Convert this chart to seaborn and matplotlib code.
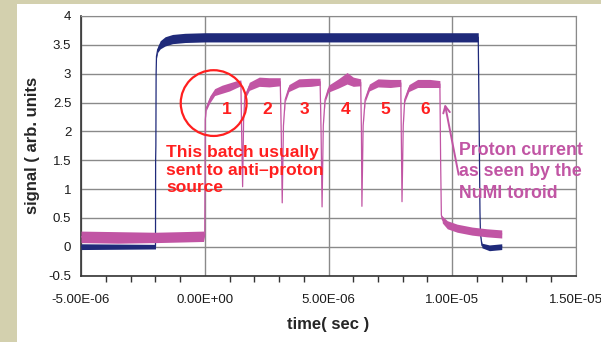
import numpy as np
import pandas as pd
import matplotlib
matplotlib.use('Agg')
import matplotlib.pyplot as plt
import seaborn as sns
from matplotlib.patches import Rectangle, Ellipse
from matplotlib.ticker import FuncFormatter, MultipleLocator

sns.set_style('white')
plt.rcParams['font.family'] = ['Liberation Sans', 'DejaVu Sans']

# ---- data (time in microseconds) ----
# beam current (blue), centre line and half-width of the noise band
blue_t = [-5.0, -1.99, -1.985, -1.975, -1.965, -1.95, -1.9, -1.8, -1.6, -1.3, -0.8,
          0.0, 3.0, 6.0, 9.0, 11.05, 11.09, 11.12, 11.14, 11.2, 11.5, 12.0]
blue_y = [0.0, 0.0, 1.5, 1.75, 3.0, 3.3, 3.42, 3.5, 3.56, 3.6, 3.62,
          3.63, 3.63, 3.63, 3.63, 3.63, 2.0, 0.6, 0.22, 0.02, -0.02, 0.0]
blue_spread = [0.05, 0.04, 0, 0, 0, 0.03, 0.05, 0.07, 0.08, 0.08, 0.08,
               0.08, 0.08, 0.08, 0.08, 0.08, 0, 0, 0, 0.04, 0.05, 0.05]

# proton current at the NuMI toroid (magenta), six batches
mag_t = [-5.0, -3.5, -2.0, -1.0, -0.05, 0.0, 0.02,
         0.06, 0.2, 0.4, 0.7, 1.0, 1.3, 1.46, 1.49, 1.53, 1.57,
         1.62, 1.8, 2.2, 2.6, 3.05, 3.09, 3.13, 3.18,
         3.25, 3.4, 3.8, 4.3, 4.66, 4.70, 4.74, 4.79,
         4.86, 5.0, 5.4, 5.75, 6.0, 6.30, 6.33, 6.35, 6.40,
         6.48, 6.65, 7.0, 7.5, 7.92, 7.94, 7.97, 8.02,
         8.08, 8.25, 8.6, 9.1, 9.5, 9.53, 9.56,
         9.6, 9.8, 10.2, 10.8, 11.4, 12.0]
mag_y = [0.17, 0.16, 0.16, 0.17, 0.18, 0.2, 2.2,
         2.4, 2.55, 2.68, 2.73, 2.77, 2.82, 2.84, 2.0, 1.04, 2.2,
         2.6, 2.78, 2.86, 2.85, 2.86, 2.0, 0.76, 2.1,
         2.55, 2.75, 2.84, 2.85, 2.86, 2.0, 0.69, 2.1,
         2.55, 2.74, 2.83, 2.92, 2.86, 2.85, 2.0, 0.70, 2.1,
         2.55, 2.76, 2.84, 2.83, 2.84, 2.0, 0.78, 2.1,
         2.55, 2.75, 2.83, 2.83, 2.82, 1.5, 0.55,
         0.47, 0.38, 0.32, 0.27, 0.24, 0.22]
mag_spread = [0.1, 0.1, 0.09, 0.09, 0.09, 0, 0,
              0.04, 0.06, 0.06, 0.07, 0.07, 0.06, 0.05, 0, 0, 0,
              0.04, 0.07, 0.08, 0.08, 0.07, 0, 0, 0,
              0.04, 0.06, 0.07, 0.07, 0.06, 0, 0, 0,
              0.04, 0.06, 0.08, 0.1, 0.08, 0.06, 0, 0, 0,
              0.04, 0.06, 0.07, 0.07, 0.06, 0, 0, 0,
              0.04, 0.06, 0.07, 0.07, 0.06, 0, 0,
              0.06, 0.07, 0.07, 0.07, 0.07, 0.07]

batch_labels = ['1', '2', '3', '4', '5', '6']
batch_label_t = [0.875, 2.53, 4.03, 5.67, 7.28, 8.89]

BLUE = '#1f2a7a'
MAG = '#c155a4'
RED = '#ff1f1f'

blue = pd.DataFrame({'t': np.array(blue_t) * 1e-6, 'y': blue_y, 's': blue_spread})
mag = pd.DataFrame({'t': np.array(mag_t) * 1e-6, 'y': mag_y, 's': mag_spread})

fig = plt.figure(figsize=(6.01, 3.42), dpi=100)
fig.patch.set_facecolor('#d3d0ae')
fig.patches.append(Rectangle((17 / 601, 0), 1, 338 / 342, transform=fig.transFigure,
                             facecolor='white', edgecolor='none', zorder=-10))
ax = fig.add_axes([81 / 601, 66.5 / 342, 495 / 601, 259.5 / 342])
ax.set_facecolor('white')

# traces
ax.fill_between(blue['t'], blue['y'] - blue['s'], blue['y'] + blue['s'], color=BLUE, lw=0, zorder=3)
sns.lineplot(data=blue, x='t', y='y', sort=False, estimator=None, color=BLUE, lw=0.9, ax=ax, zorder=3)
ax.fill_between(mag['t'], mag['y'] - mag['s'], mag['y'] + mag['s'], color=MAG, lw=0, zorder=4)
sns.lineplot(data=mag, x='t', y='y', sort=False, estimator=None, color=MAG, lw=0.9, ax=ax, zorder=4)

ax.set_xlim(-5e-6, 1.5e-5)
ax.set_ylim(-0.5, 4)
ax.xaxis.set_major_locator(MultipleLocator(5e-6))
ax.xaxis.set_minor_locator(MultipleLocator(1e-6))
ax.yaxis.set_major_locator(MultipleLocator(0.5))
ax.xaxis.set_major_formatter(FuncFormatter(lambda v, p: f'{v:.2E}'))
ax.yaxis.set_major_formatter(FuncFormatter(lambda v, p: f'{v:g}'))
ax.grid(True, which='major', color='#8a8a8a', lw=1)
ax.set_axisbelow(True)
ax.tick_params(axis='both', which='major', direction='out', length=4, width=1,
               color='#333333', labelsize=9.5, labelcolor='#1a1a1a')
ax.tick_params(axis='x', which='major', length=5, pad=8)
ax.tick_params(axis='x', which='minor', direction='out', length=4, width=1,
               color='#333333', bottom=True)
ax.tick_params(axis='y', pad=3)
for side in ['top', 'right']:
    ax.spines[side].set_color('#8a8a8a')
for side in ['left', 'bottom']:
    ax.spines[side].set_color('#333333')
    ax.spines[side].set_linewidth(1.2)

ax.set_xlabel('time( sec )', fontsize=12, fontweight='bold', labelpad=8)
ax.set_ylabel('signal ( arb. units', fontsize=12, fontweight='bold', labelpad=6)

# annotations
ax.add_patch(Ellipse((0.36e-6, 2.49), 2.66e-6, 1.14, fill=False, edgecolor=RED, lw=1.6, zorder=6))
for lab, t in zip(batch_labels, batch_label_t):
    ax.text(t * 1e-6, 2.37, lab, color=RED, fontsize=12.5, fontweight='bold',
            ha='center', va='center', zorder=7)
ax.text(-1.55e-6, 1.76, 'This batch usually\nsent to anti–proton\nsource', color=RED,
        fontsize=12.5, fontweight='bold', ha='left', va='top', linespacing=1.22, zorder=7)
ax.text(10.28e-6, 1.82, 'Proton current\nas seen by the\nNuMI toroid', color=MAG,
        fontsize=12.8, fontweight='bold', ha='left', va='top', linespacing=1.35, zorder=7)
ax.annotate('', xy=(9.68e-6, 2.52), xytext=(10.28e-6, 1.2),
            arrowprops=dict(arrowstyle='->', color=MAG, lw=1.4, mutation_scale=12), zorder=7)

fig.savefig('out.png', dpi=100, facecolor=fig.get_facecolor())
